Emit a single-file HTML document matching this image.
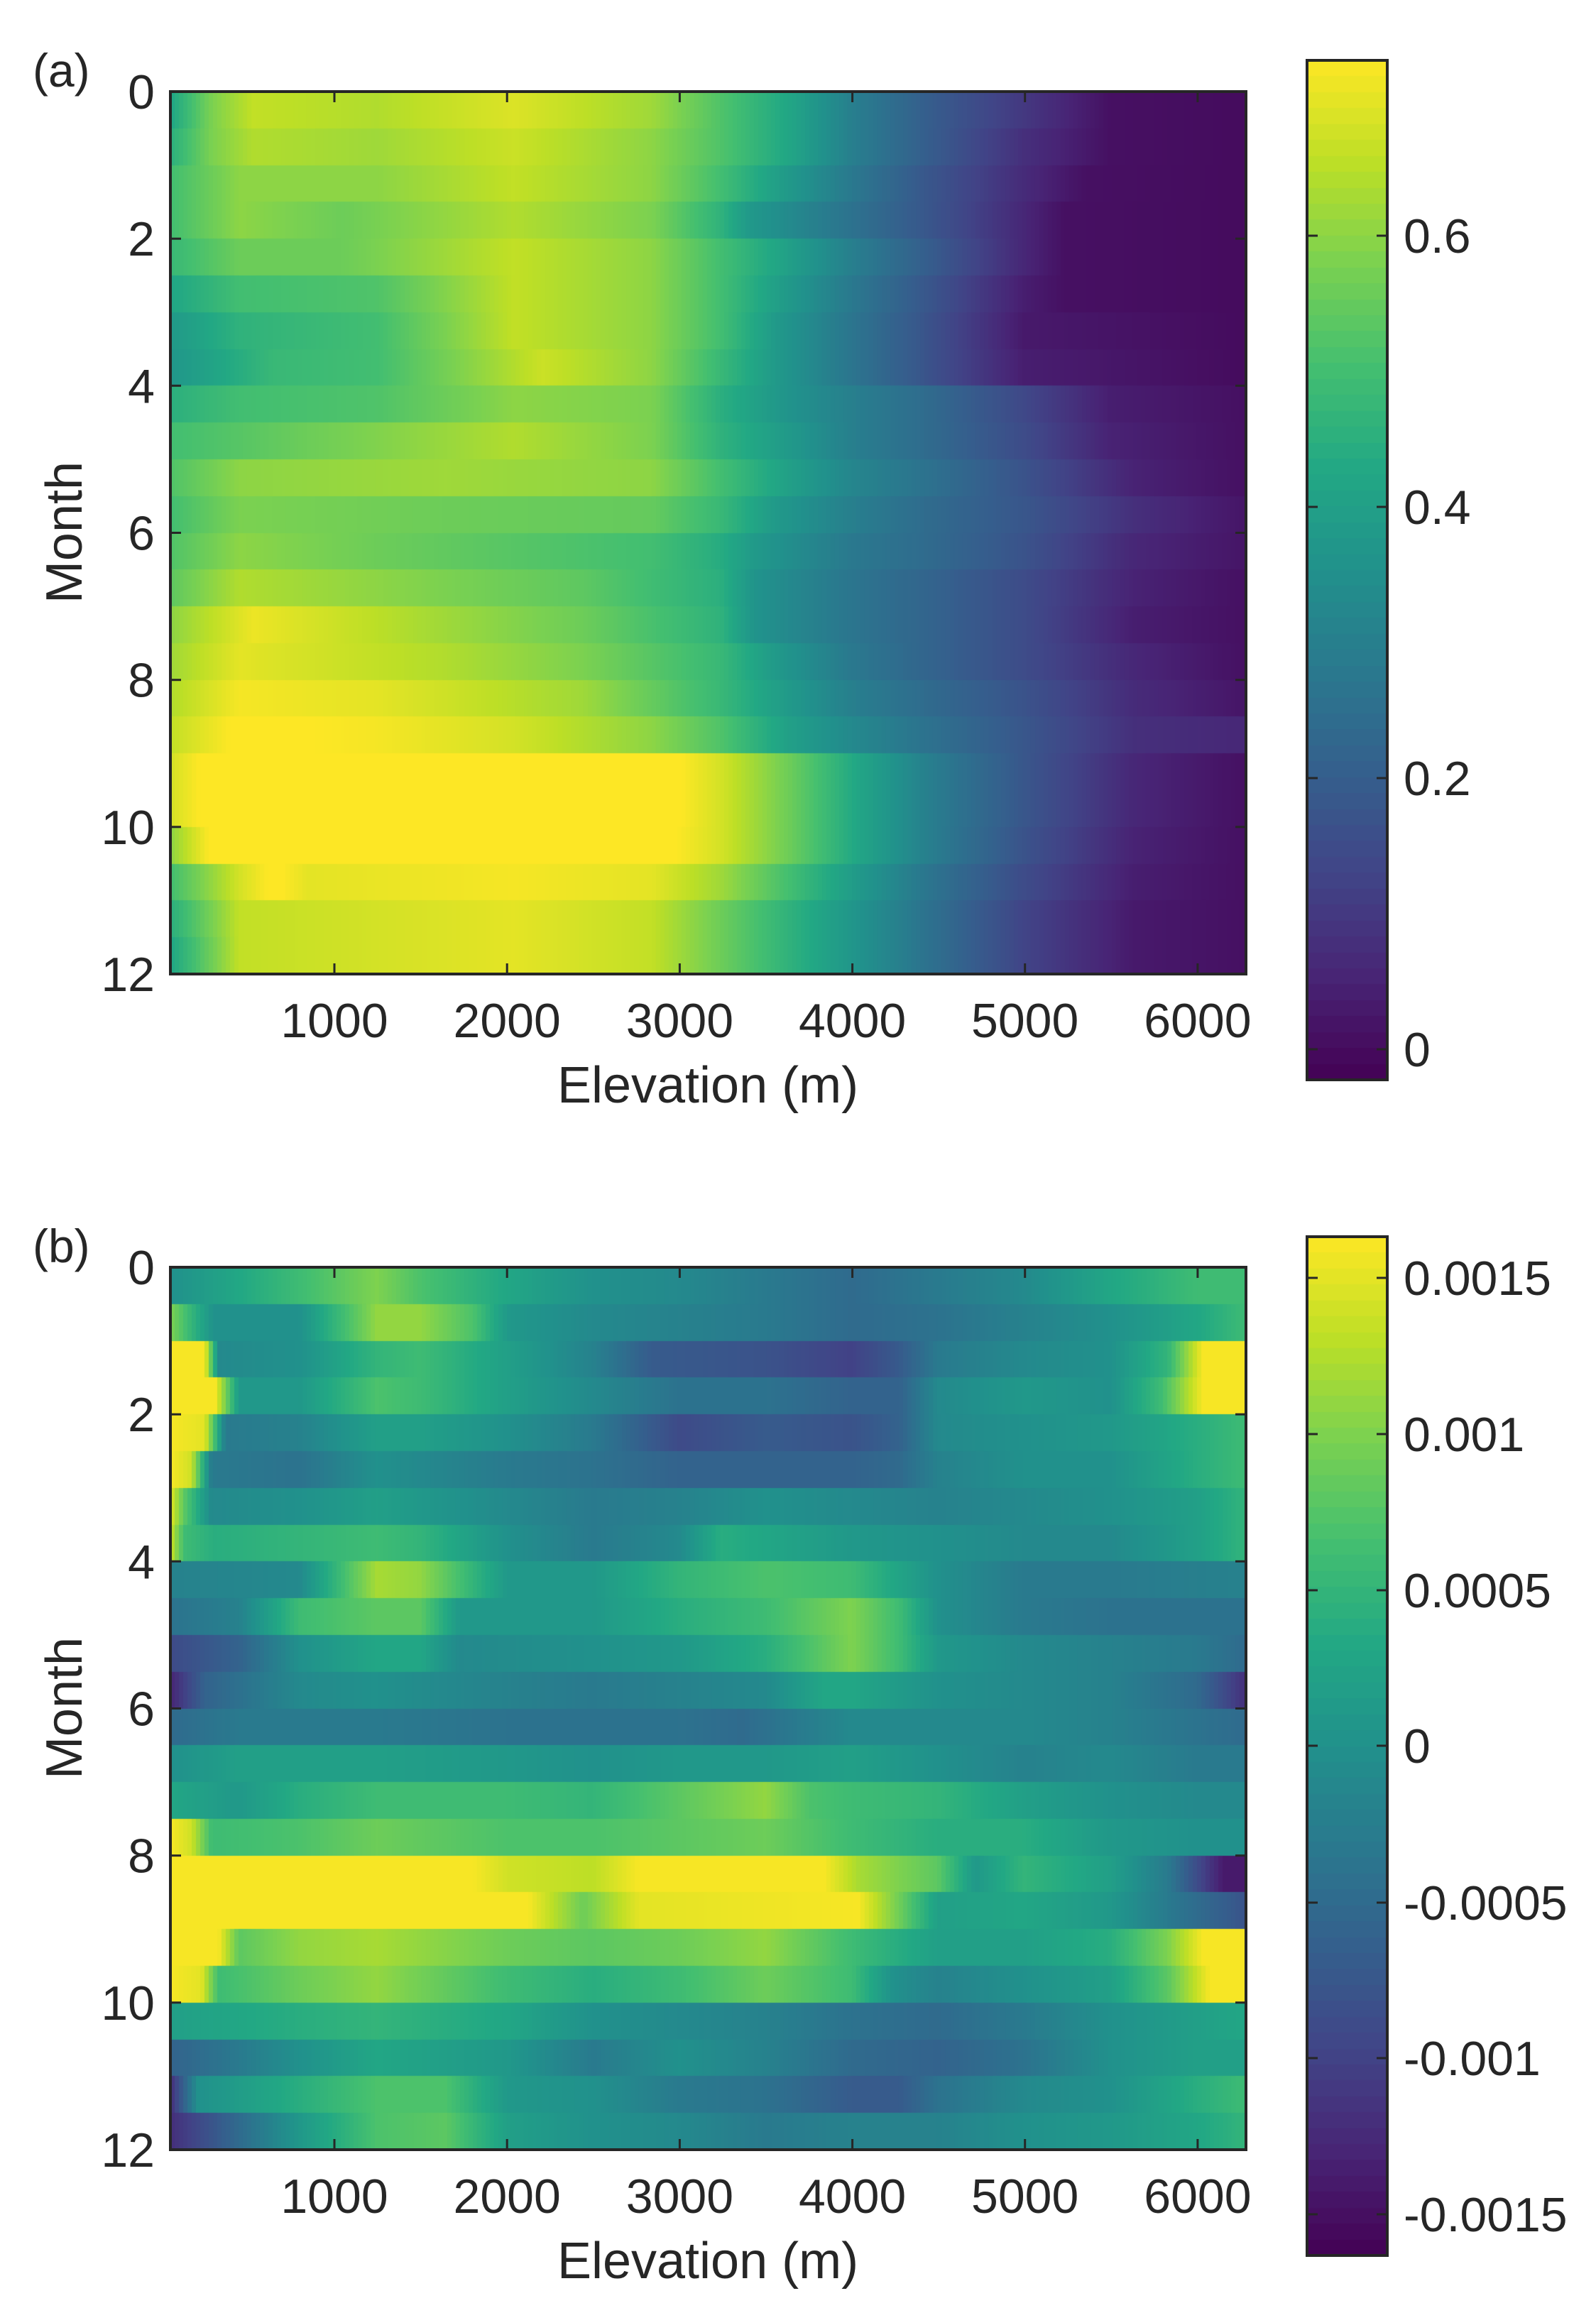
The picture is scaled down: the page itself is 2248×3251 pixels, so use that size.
<!DOCTYPE html>
<html><head><meta charset="utf-8">
<style>
html,body{margin:0;padding:0;background:#fff;}
body{width:2248px;height:3251px;position:relative;overflow:hidden;}
canvas{position:absolute;}
svg{position:absolute;left:0;top:0;}
text{font-family:"Liberation Sans",sans-serif;fill:#262626;}
</style></head><body>
<canvas id="ha" width="1515" height="1243" style="left:240px;top:129px"></canvas>
<canvas id="hb" width="1515" height="1243" style="left:240px;top:1785px"></canvas>
<canvas id="ca" width="113" height="1436" style="left:1841px;top:85px"></canvas>
<canvas id="cb" width="113" height="1435" style="left:1841px;top:1742px"></canvas>
<svg width="2248" height="3251" id="ov"></svg>
<script>
var V=[[68,1,84],[72,36,117],[65,68,135],[53,95,141],[42,120,142],[33,145,140],[34,168,132],[68,191,112],[122,209,81],[189,223,38],[253,231,37]];
function vir(t){t=Math.max(0,Math.min(1,t));var s=t*10,i=Math.min(9,Math.floor(s)),f=s-i,a=V[i],b=V[i+1];
return 'rgb('+Math.round(a[0]+(b[0]-a[0])*f)+','+Math.round(a[1]+(b[1]-a[1])*f)+','+Math.round(a[2]+(b[2]-a[2])*f)+')';}
function interp(r,x){if(x<=r[0])return r[1];for(var i=2;i<r.length;i+=2){if(x<=r[i]){var x0=r[i-2],y0=r[i-1];return y0+(r[i+1]-y0)*(x-x0)/(r[i]-x0);}}return r[r.length-1];}
var A=[
[0,.42,60,.58,120,.66,300,.64,500,.69,700,.62,800,.52,900,.42,990,.3,1100,.2,1240,.1,1366,.01,1563,0],
[0,.45,60,.58,120,.64,300,.62,500,.67,700,.6,800,.52,900,.42,990,.3,1100,.2,1240,.08,1366,.01,1563,0],
[0,.5,100,.6,300,.6,500,.66,700,.6,800,.5,880,.4,990,.28,1100,.18,1240,.07,1330,.01,1563,0],
[0,.5,100,.6,250,.56,500,.64,700,.58,800,.46,840,.38,990,.26,1100,.18,1240,.06,1300,.01,1563,0],
[0,.48,100,.56,250,.56,500,.66,700,.6,800,.5,880,.42,990,.3,1100,.2,1240,.06,1300,.01,1563,0],
[0,.42,100,.5,300,.52,500,.66,700,.6,800,.5,880,.4,990,.28,1100,.18,1240,.04,1300,.01,1563,0],
[0,.38,100,.46,300,.5,500,.66,700,.6,800,.5,880,.38,990,.27,1100,.17,1240,.03,1563,0],
[0,.37,150,.48,300,.5,540,.67,700,.6,800,.48,880,.38,990,.27,1100,.17,1240,.04,1563,0],
[0,.45,100,.5,300,.52,500,.6,700,.58,800,.45,900,.36,990,.3,1100,.24,1240,.14,1366,.04,1563,.01],
[0,.5,200,.56,500,.64,700,.58,800,.46,900,.38,990,.3,1100,.24,1240,.15,1366,.05,1563,.01],
[0,.52,100,.6,400,.62,700,.6,800,.5,900,.4,990,.32,1100,.26,1240,.17,1400,.05,1563,.01],
[0,.5,100,.58,400,.56,700,.55,800,.48,880,.38,990,.3,1100,.24,1240,.18,1400,.08,1563,.02],
[0,.52,100,.6,300,.56,700,.5,800,.44,850,.38,990,.28,1100,.24,1240,.17,1400,.06,1563,.02],
[0,.54,100,.64,400,.58,600,.54,800,.45,850,.36,990,.27,1100,.22,1240,.15,1400,.05,1563,.01],
[0,.6,120,.71,400,.62,600,.56,800,.46,850,.36,990,.27,1100,.22,1240,.15,1400,.04,1563,.01],
[0,.62,100,.7,400,.64,600,.58,800,.48,880,.38,990,.28,1100,.22,1240,.15,1400,.06,1563,.01],
[0,.64,100,.72,300,.7,600,.62,800,.48,900,.38,990,.3,1100,.24,1240,.17,1400,.07,1563,.02],
[0,.66,100,.74,300,.72,500,.68,700,.6,800,.52,900,.4,990,.33,1100,.26,1240,.18,1400,.08,1563,.06],
[0,.68,50,.74,730,.74,800,.68,900,.56,1000,.42,1100,.3,1240,.18,1400,.06,1563,.01],
[0,.68,50,.74,730,.74,800,.68,900,.56,1000,.42,1100,.3,1240,.18,1400,.06,1563,.01],
[0,.6,60,.74,720,.74,800,.68,900,.56,1000,.42,1100,.3,1240,.17,1400,.05,1563,.01],
[0,.5,100,.68,150,.74,200,.7,500,.72,700,.7,800,.62,900,.5,1000,.38,1100,.27,1240,.15,1400,.04,1563,.01],
[0,.45,100,.66,500,.7,700,.66,800,.56,900,.46,1000,.36,1100,.26,1240,.13,1400,.03,1563,.01],
[0,.42,100,.66,500,.7,700,.66,800,.56,900,.46,1000,.36,1100,.26,1240,.13,1400,.03,1563,.01]];
var B=[
[0,0,63,2,188,6,300,10,363,7,490,3,614,0,739,-1,865,-3,990,-5,1115,-3,1240,-1,1366,3,1491,6,1563,6],
[0,10,63,0,188,0,300,11,363,11,440,7,490,1,614,-1,739,-2,865,-3,990,-5,1115,-4,1240,-2,1366,0,1491,3,1563,6],
[0,16,50,16,70,-1,188,0,300,5,363,6,490,2,614,-2,700,-7,865,-8,990,-10,1060,-7,1115,-3,1240,-1,1366,0,1450,5,1500,16,1563,16],
[0,16,65,16,100,1,188,1,300,7,363,6,490,2,614,-1,739,-4,865,-4,990,-6,1060,-6,1115,-1,1240,1,1366,0,1440,6,1500,16,1563,16],
[0,16,50,15,80,-3,188,-2,300,2,363,2,490,0,614,-3,739,-9,865,-7,990,-8,1060,-6,1115,-1,1240,0,1366,1,1491,4,1563,6],
[0,16,30,14,60,-3,188,-4,300,0,363,-1,490,-3,614,-4,739,-6,865,-6,990,-6,1060,-5,1115,-2,1240,0,1366,0,1491,4,1563,6],
[0,15,20,8,60,-1,188,0,300,2,363,1,490,-1,614,-3,739,-2,865,0,990,-1,1115,-2,1240,-1,1366,0,1491,2,1563,5],
[0,14,20,6,63,4,188,5,300,6,363,5,490,0,614,-3,739,-1,800,4,865,3,990,1,1115,0,1240,-1,1366,-1,1491,2,1563,5],
[0,-2,188,-1,300,12,363,11,490,1,614,1,739,5,865,7,990,6,1115,0,1240,-3,1366,-3,1563,-2],
[0,-4,100,-2,188,6,300,8,363,8,420,1,614,1,739,4,865,6,990,10,1060,6,1115,0,1240,-3,1366,-4,1563,-4],
[0,-9,100,-6,188,0,300,3,363,3,420,-1,614,0,739,1,865,4,990,10,1060,6,1115,1,1240,-1,1366,-2,1491,-3,1563,-5],
[0,-13,50,-6,188,-1,300,0,490,-2,614,-3,739,-2,865,-1,950,3,990,3,1115,0,1240,-1,1366,-2,1491,-5,1563,-12],
[0,-5,100,-3,188,-3,300,-3,490,-4,614,-4,739,-4,830,-5,990,-1,1115,-1,1240,-1,1366,-2,1563,-5],
[0,0,100,2,300,2,490,1,614,0,739,1,865,1,990,2,1115,0,1240,-2,1366,-1,1491,-3,1563,-3],
[0,3,100,1,188,4,300,6,490,6,614,5,739,8,865,11,930,7,990,6,1115,5,1240,2,1366,0,1491,-1,1563,-1],
[0,16,30,14,60,6,188,7,300,9,490,7,614,7,739,8,865,9,990,6,1115,4,1240,4,1366,1,1491,0,1563,0],
[0,16,440,16,490,14,614,13,680,16,950,16,1000,12,1115,8,1170,1,1240,5,1366,2,1450,-3,1530,-14,1563,-14],
[0,16,520,16,600,9,680,15,1000,16,1060,9,1115,2,1240,3,1366,1,1450,-3,1563,-8],
[0,16,70,16,100,8,188,11,300,12,490,9,614,8,739,9,865,11,990,6,1115,2,1240,2,1366,4,1450,10,1500,16,1563,16],
[0,16,45,15,70,6,188,9,300,11,490,6,614,4,739,6,865,9,990,6,1050,0,1115,-2,1240,0,1366,2,1450,8,1510,16,1563,16],
[0,2,188,4,300,5,490,3,614,0,739,-1,865,-2,990,-4,1115,-5,1240,-3,1366,0,1491,2,1563,3],
[0,-6,100,-3,188,0,300,3,490,1,614,-3,739,0,865,-2,990,-5,1115,-6,1240,-4,1366,0,1491,2,1563,2],
[0,-12,40,0,188,4,300,7,400,7,490,1,614,0,739,-3,865,-4,990,-7,1060,-7,1115,-4,1240,-1,1366,0,1491,4,1563,6],
[0,-12,100,-5,188,1,300,7,400,8,490,2,614,0,739,-1,865,-3,990,-2,1115,-2,1240,0,1366,1,1491,3,1563,5]];
function heat(id,rows,mn,mx){var c=document.getElementById(id).getContext('2d'),W=1515,H=1243,rh=H/24,step=6;
for(var r=0;r<24;r++){var y0=Math.round(r*rh),y1=Math.round((r+1)*rh);
for(var x=0;x<W;x+=step){var zx=(x+step/2)*1563/W;var v=interp(rows[r],zx);
c.fillStyle=vir((v-mn)/(mx-mn));c.fillRect(x,y0,step+1,y1-y0);}}}
heat('ha',A,-0.0223,0.7293);heat('hb',B,-16.31,16.31);
function cbar(id,h){var c=document.getElementById(id).getContext('2d');var n=64;
for(var i=0;i<n;i++){var y0=Math.round(h-(i+1)*h/n),y1=Math.round(h-i*h/n);c.fillStyle=vir((i+0.5)/n);c.fillRect(0,y0,113,y1-y0);}}
cbar('ca',1436);cbar('cb',1435);
var s='';var L=240,R=1755;
function xe(e){return 240+(e-50)*1515/6230;}
function panel(T,lab){var B=T+1243;
s+='<rect x="'+L+'" y="'+T+'" width="'+(R-L)+'" height="1243" fill="none" stroke="#262626" stroke-width="4"/>';
for(var e=1000;e<=6000;e+=1000){var x=xe(e).toFixed(1);
s+='<line x1="'+x+'" y1="'+T+'" x2="'+x+'" y2="'+(T+15)+'" stroke="#262626" stroke-width="3"/>';
s+='<line x1="'+x+'" y1="'+B+'" x2="'+x+'" y2="'+(B-15)+'" stroke="#262626" stroke-width="3"/>';
s+='<text x="'+x+'" y="'+(B+89)+'" font-size="68" text-anchor="middle">'+e+'</text>';}
for(var m=0;m<=12;m+=2){var y=(T+m*1243/12).toFixed(1);
s+='<line x1="'+L+'" y1="'+y+'" x2="'+(L+15)+'" y2="'+y+'" stroke="#262626" stroke-width="3"/>';
s+='<line x1="'+R+'" y1="'+y+'" x2="'+(R-15)+'" y2="'+y+'" stroke="#262626" stroke-width="3"/>';
s+='<text x="218" y="'+(+y+24)+'" font-size="68" text-anchor="end">'+m+'</text>';}
s+='<text x="997" y="'+(B+181)+'" font-size="72" text-anchor="middle">Elevation (m)</text>';
s+='<text transform="translate(115,'+(T+621)+') rotate(-90)" font-size="72" text-anchor="middle">Month</text>';
s+='<text x="46" y="'+(T-7)+'" font-size="66">'+lab+'</text>';}
panel(129,'(a)');panel(1785,'(b)');
function cb(T,H,ticks){s+='<rect x="1841" y="'+T+'" width="113" height="'+H+'" fill="none" stroke="#262626" stroke-width="4"/>';
ticks.forEach(function(t){var y=t[0];s+='<line x1="1841" y1="'+y+'" x2="1856" y2="'+y+'" stroke="#262626" stroke-width="3"/><line x1="1954" y1="'+y+'" x2="1939" y2="'+y+'" stroke="#262626" stroke-width="3"/>';
s+='<text x="1977" y="'+(y+24)+'" font-size="68">'+t[1]+'</text>';});}
cb(85,1436,[[332,'0.6'],[714,'0.4'],[1096,'0.2'],[1478,'0']]);
cb(1742,1435,[[1800,'0.0015'],[2020,'0.001'],[2240,'0.0005'],[2459,'0'],[2680,'-0.0005'],[2899,'-0.001'],[3119,'-0.0015']]);
document.getElementById('ov').innerHTML=s;
</script>
</body></html>
